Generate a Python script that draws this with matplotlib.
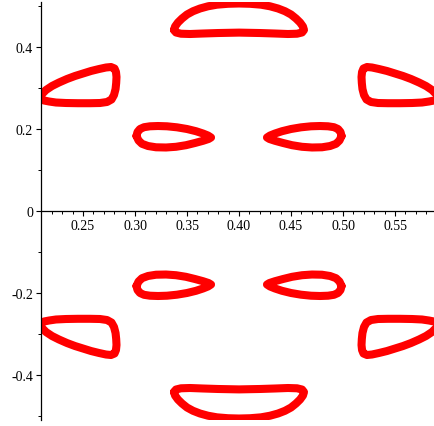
import matplotlib
matplotlib.use("Agg")
import matplotlib.pyplot as plt
from matplotlib.ticker import MultipleLocator, FixedLocator

# ---- data ----
# top / bottom centre loops
top_x = [0.3375, 0.3385, 0.3413, 0.3452, 0.3500, 0.3558, 0.3625, 0.3702, 0.3788, 0.3894, 0.4000,
         0.4106, 0.4212, 0.4298, 0.4375, 0.4442, 0.4500, 0.4548, 0.4587, 0.4615, 0.4625, 0.4606,
         0.4558, 0.4471, 0.4346, 0.4202, 0.4000, 0.3798, 0.3654, 0.3529, 0.3442, 0.3394]
top_y = [0.4415, 0.4500, 0.4598, 0.4695, 0.4793, 0.4873, 0.4939, 0.4993, 0.5032, 0.5054, 0.5061,
         0.5054, 0.5032, 0.4993, 0.4939, 0.4873, 0.4793, 0.4695, 0.4598, 0.4500, 0.4415, 0.4354,
         0.4324, 0.4317, 0.4329, 0.4341, 0.4351, 0.4341, 0.4329, 0.4317, 0.4324, 0.4354]
bot_x = top_x
bot_y = [-0.4415, -0.4500, -0.4598, -0.4695, -0.4793, -0.4873, -0.4939, -0.4993, -0.5032, -0.5054, -0.5061,
         -0.5054, -0.5032, -0.4993, -0.4939, -0.4873, -0.4793, -0.4695, -0.4598, -0.4500, -0.4415, -0.4354,
         -0.4324, -0.4317, -0.4329, -0.4341, -0.4351, -0.4341, -0.4329, -0.4317, -0.4324, -0.4354]

# outer side loops
outl_x = [0.2087, 0.2106, 0.2144, 0.2202, 0.2269, 0.2346, 0.2423, 0.2500, 0.2577, 0.2654, 0.2721,
          0.2769, 0.2803, 0.2817, 0.2822, 0.2819, 0.2813, 0.2798, 0.2774, 0.2731, 0.2663, 0.2567,
          0.2452, 0.2337, 0.2240, 0.2173, 0.2125]
outr_x = [0.5913, 0.5894, 0.5856, 0.5798, 0.5731, 0.5654, 0.5577, 0.5500, 0.5423, 0.5346, 0.5279,
          0.5231, 0.5197, 0.5183, 0.5178, 0.5181, 0.5187, 0.5202, 0.5226, 0.5269, 0.5337, 0.5433,
          0.5548, 0.5663, 0.5760, 0.5827, 0.5875]
outu_y = [0.2744, 0.2854, 0.2951, 0.3049, 0.3134, 0.3220, 0.3293, 0.3354, 0.3415, 0.3463, 0.3500,
          0.3512, 0.3476, 0.3390, 0.3268, 0.3122, 0.2976, 0.2829, 0.2720, 0.2659, 0.2634, 0.2629,
          0.2629, 0.2634, 0.2646, 0.2671, 0.2695]
outd_y = [-0.2744, -0.2854, -0.2951, -0.3049, -0.3134, -0.3220, -0.3293, -0.3354, -0.3415, -0.3463, -0.3500,
          -0.3512, -0.3476, -0.3390, -0.3268, -0.3122, -0.2976, -0.2829, -0.2720, -0.2659, -0.2634, -0.2629,
          -0.2629, -0.2634, -0.2646, -0.2671, -0.2695]

# inner small loops
inl_x = [0.3014, 0.3024, 0.3048, 0.3087, 0.3144, 0.3221, 0.3308, 0.3404, 0.3500, 0.3587, 0.3654,
         0.3702, 0.3731, 0.3707, 0.3654, 0.3577, 0.3490, 0.3394, 0.3298, 0.3202, 0.3125, 0.3067, 0.3034]
inr_x = [0.4986, 0.4976, 0.4952, 0.4913, 0.4856, 0.4779, 0.4692, 0.4596, 0.4500, 0.4413, 0.4346,
         0.4298, 0.4269, 0.4293, 0.4346, 0.4423, 0.4510, 0.4606, 0.4702, 0.4798, 0.4875, 0.4933, 0.4966]
inu_y = [0.1829, 0.1927, 0.2000, 0.2044, 0.2066, 0.2073, 0.2066, 0.2041, 0.2000, 0.1946, 0.1890,
         0.1841, 0.1793, 0.1756, 0.1712, 0.1659, 0.1605, 0.1566, 0.1549, 0.1554, 0.1585, 0.1639, 0.1720]
ind_y = [-0.1829, -0.1927, -0.2000, -0.2044, -0.2066, -0.2073, -0.2066, -0.2041, -0.2000, -0.1946, -0.1890,
         -0.1841, -0.1793, -0.1756, -0.1712, -0.1659, -0.1605, -0.1566, -0.1549, -0.1554, -0.1585, -0.1639, -0.1720]

loops = [(top_x, top_y), (bot_x, bot_y),
         (outl_x, outu_y), (outl_x, outd_y), (outr_x, outu_y), (outr_x, outd_y),
         (inl_x, inu_y), (inl_x, ind_y), (inr_x, inu_y), (inr_x, ind_y)]

xticks = [0.25, 0.30, 0.35, 0.40, 0.45, 0.50, 0.55]
xticklabels = ["0.25", "0.30", "0.35", "0.40", "0.45", "0.50", "0.55"]
yticks = [-0.4, -0.2, 0.0, 0.2, 0.4]
yticklabels = ["-0.4", "-0.2", "0", "0.2", "0.4"]

# ---- figure ----
fig = plt.figure(figsize=(4.34, 4.27), dpi=100)
ax = fig.add_axes([41 / 434, 0.0138, 393 / 434, 0.9794])

for lx, ly in loops:
    ax.plot(list(lx) + [lx[0]], list(ly) + [ly[0]], color="#ff0000", lw=5.8,
            solid_joinstyle="round", solid_capstyle="round")

ax.set_xlim(0.2096, 0.5875)
ax.set_ylim(-0.51, 0.51)

ax.spines["top"].set_visible(False)
ax.spines["right"].set_visible(False)
ax.spines["bottom"].set_position(("data", 0))
for s in ("left", "bottom"):
    ax.spines[s].set_linewidth(0.9)
    ax.spines[s].set_color("black")

ax.xaxis.set_major_locator(FixedLocator(xticks))
ax.set_xticklabels(xticklabels)
ax.xaxis.set_minor_locator(MultipleLocator(0.01))
ax.yaxis.set_major_locator(FixedLocator(yticks))
ax.set_yticklabels(yticklabels)
ax.yaxis.set_minor_locator(MultipleLocator(0.1))

ax.tick_params(which="major", direction="out", length=3.3, width=0.8, pad=2.5,
               labelsize=10, colors="black")
ax.tick_params(which="minor", direction="out", length=1.9, width=0.7)
for lab in ax.get_xticklabels() + ax.get_yticklabels():
    lab.set_fontfamily("Liberation Serif")

fig.savefig("out.png", dpi=100)
